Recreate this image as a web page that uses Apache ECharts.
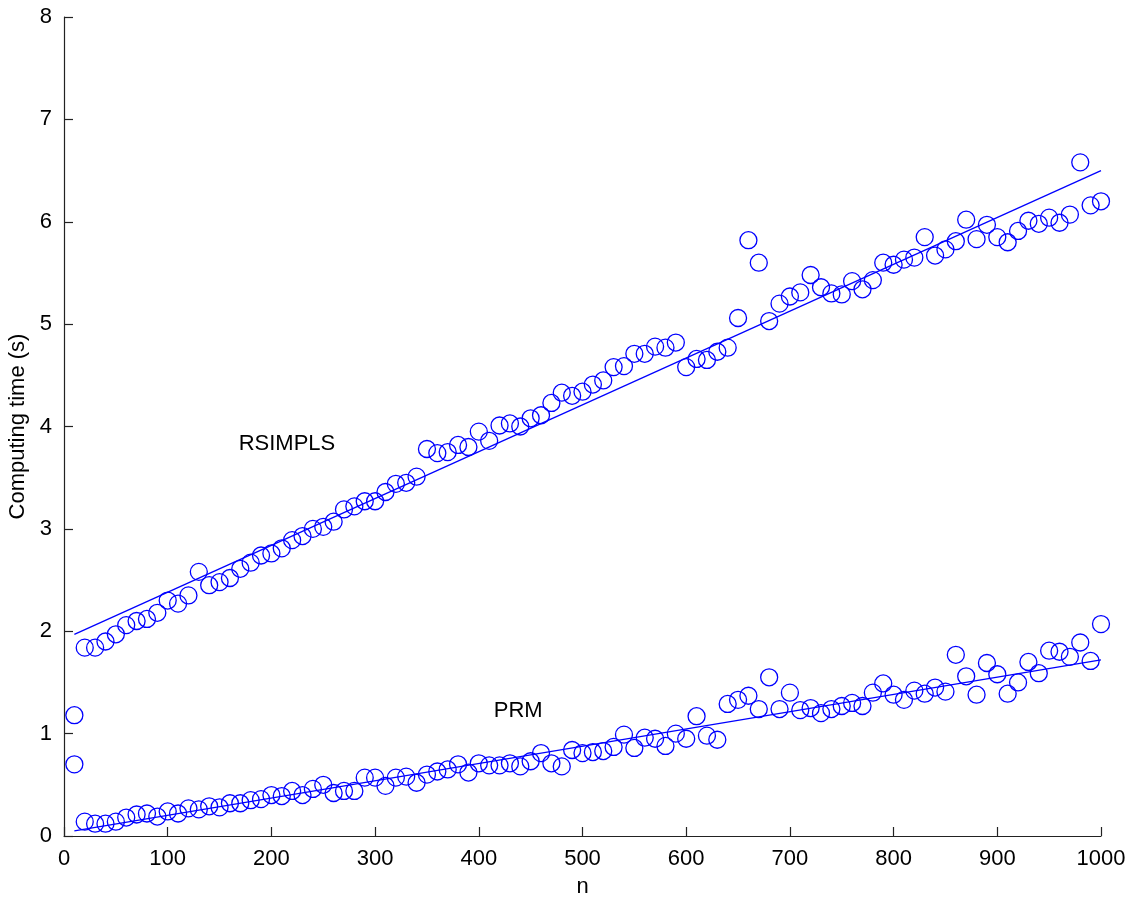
<!DOCTYPE html>
<html>
<head>
<meta charset="utf-8">
<script src="https://cdn.jsdelivr.net/npm/echarts@6/dist/echarts.min.js"></script>
<style>html,body{margin:0;padding:0;background:#fff}#c{width:1142px;height:900px}</style>
</head>
<body>
<div id="c"></div>
<script>
const nValues = [10,20,30,40,50,60,70,80,90,100,110,120,130,140,150,160,170,180,190,200,210,220,230,240,250,260,270,280,290,300,310,320,330,340,350,360,370,380,390,400,410,420,430,440,450,460,470,480,490,500,510,520,530,540,550,560,570,580,590,600,610,620,630,640,650,660,670,680,690,700,710,720,730,740,750,760,770,780,790,800,810,820,830,840,850,860,870,880,890,900,910,920,930,940,950,960,970,980,990,1000];
const rsimpls = [1.18,1.84,1.84,1.90,1.97,2.06,2.10,2.12,2.18,2.30,2.27,2.35,2.58,2.45,2.48,2.52,2.61,2.67,2.74,2.76,2.81,2.89,2.93,3.00,3.02,3.07,3.19,3.22,3.27,3.27,3.36,3.44,3.45,3.51,3.78,3.74,3.75,3.82,3.80,3.95,3.86,4.01,4.03,4.00,4.08,4.11,4.23,4.33,4.30,4.34,4.41,4.45,4.58,4.59,4.71,4.71,4.78,4.77,4.82,4.58,4.66,4.65,4.73,4.77,5.06,5.82,5.60,5.03,5.20,5.27,5.31,5.48,5.36,5.30,5.29,5.42,5.34,5.43,5.60,5.58,5.63,5.65,5.85,5.67,5.73,5.81,6.02,5.83,5.97,5.85,5.80,5.91,6.01,5.98,6.04,5.99,6.07,6.58,6.16,6.20];
const prm = [0.70,0.14,0.12,0.12,0.14,0.18,0.21,0.22,0.19,0.24,0.22,0.27,0.26,0.29,0.28,0.32,0.32,0.35,0.36,0.40,0.39,0.44,0.40,0.46,0.50,0.42,0.44,0.44,0.57,0.57,0.49,0.57,0.58,0.52,0.60,0.63,0.65,0.70,0.62,0.71,0.69,0.69,0.71,0.68,0.73,0.81,0.71,0.68,0.84,0.81,0.82,0.83,0.87,0.99,0.86,0.96,0.95,0.88,1.00,0.95,1.17,0.98,0.94,1.29,1.33,1.37,1.24,1.55,1.24,1.40,1.23,1.25,1.20,1.24,1.27,1.30,1.27,1.40,1.49,1.38,1.33,1.42,1.39,1.45,1.41,1.77,1.56,1.38,1.69,1.58,1.39,1.50,1.70,1.59,1.81,1.80,1.75,1.89,1.71,2.07];
const rsimplsFit = [[10,1.97],[1000,6.50]];
const prmFit = [[10,0.05],[1000,1.72]];
const xTicks = [0,100,200,300,400,500,600,700,800,900,1000];
const yTicks = [0,1,2,3,4,5,6,7,8];
const labels = [{text:'RSIMPLS', n:215, v:3.83},{text:'PRM', n:438, v:1.22}];

const blue = '#0000ff';
const axisColor = '#222';
const font = 'Liberation Sans, Arial, Helvetica, sans-serif';
const fs = 22;

const chart = echarts.init(document.getElementById('c'), null, {renderer:'canvas'});
const axisCommon = {
  axisLine:{show:true, lineStyle:{color:axisColor, width:1.2}},
  axisTick:{show:true, inside:true, length:9, lineStyle:{color:axisColor, width:1.2}},
  axisLabel:{color:'#000', fontSize:fs, fontFamily:font, margin:12, formatter:v=>String(v)},
  splitLine:{show:false},
  nameTextStyle:{color:'#000', fontSize:fs, fontFamily:font}
};
const circleStyle = {color:'rgba(0,0,0,0)', borderColor:blue, borderWidth:1.3, opacity:1};
chart.setOption({
  animation:false,
  backgroundColor:'#fff',
  grid:{left:64, right:41, top:17, bottom:64, containLabel:false, outerBoundsMode:'none'},
  xAxis:Object.assign({}, axisCommon, {
    type:'value', min:xTicks[0], max:xTicks[xTicks.length-1], interval:100,
    name:'n', nameLocation:'middle', nameGap:40
  }),
  yAxis:Object.assign({}, axisCommon, {
    type:'value', min:yTicks[0], max:yTicks[yTicks.length-1], interval:1,
    name:'Computing time (s)', nameLocation:'middle', nameGap:33
  }),
  series:[
    {type:'scatter', data:nValues.map((n,i)=>[n,rsimpls[i]]), symbol:'circle', symbolSize:17,
      itemStyle:circleStyle, z:3},
    {type:'scatter', data:nValues.map((n,i)=>[n,prm[i]]), symbol:'circle', symbolSize:17,
      itemStyle:circleStyle, z:3},
    {type:'line', data:rsimplsFit, symbol:'none', lineStyle:{color:blue, width:1.3}, z:4},
    {type:'line', data:prmFit, symbol:'none', lineStyle:{color:blue, width:1.3}, z:4},
    {type:'scatter', data:labels.map(l=>({value:[l.n,l.v], name:l.text})), symbolSize:0, silent:true,
      itemStyle:{color:'rgba(0,0,0,0)', opacity:1},
      label:{show:true, position:'inside', formatter:p=>p.name, color:'#000', fontSize:fs, fontFamily:font, textBorderWidth:0, opacity:1}}
  ]
});
</script>
</body>
</html>
